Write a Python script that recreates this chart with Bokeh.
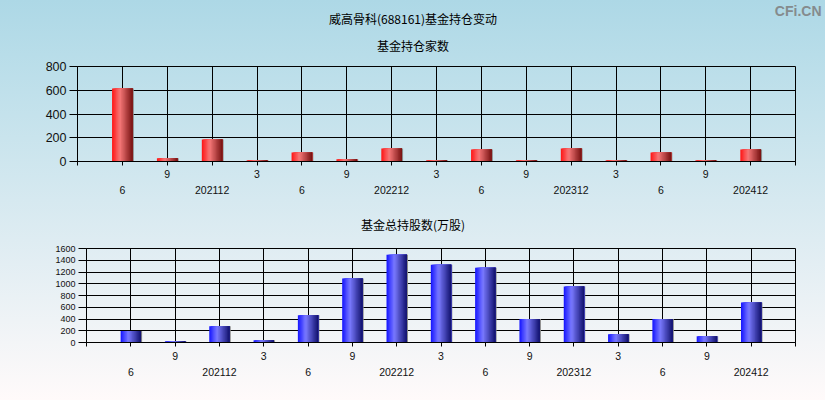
import numpy as np
from bokeh.plotting import figure
from bokeh.models import FixedTicker, Range1d
from bokeh.core.properties import value
from bokeh.embed import file_html
from bokeh.resources import INLINE

# ---- data ----
quarters = ["2021-06", "2021-09", "2021-12", "2022-03", "2022-06", "2022-09", "2022-12",
            "2023-03", "2023-06", "2023-09", "2023-12", "2024-03", "2024-06", "2024-09", "2024-12"]
tick_labels = ["6", "9", "202112", "3", "6", "9", "202212", "3", "6", "9", "202312",
               "3", "6", "9", "202412"]
fund_counts = [615, 28, 185, 11, 76, 19, 110, 10, 101, 10, 110, 10, 76, 10, 101]
fund_shares = [196, 22, 276, 39, 462, 1088, 1494, 1324, 1274, 399, 952, 140, 399, 107, 682]
main_title = "威高骨科(688161)基金持仓变动"
title_counts = "基金持仓家数"
title_shares = "基金总持股数(万股)"
watermark = "CFi.CN"

CJK = "Noto Sans CJK SC"
LAT = "Liberation Sans"
W = 825
TOTAL_H = 400

red_stops = [(0.0, (255, 20, 20)), (0.38, (246, 120, 120)), (1.0, (118, 16, 16))]
blue_stops = [(0.0, (20, 20, 255)), (0.38, (122, 122, 255)), (1.0, (16, 16, 108))]
bg_top = (173, 216, 230)
bg_bot = (255, 250, 250)


def hexc(c):
    return "#%02x%02x%02x" % tuple(int(round(v)) for v in c)


def bg_at(y):
    t = y / TOTAL_H
    return hexc([a + (b - a) * t for a, b in zip(bg_top, bg_bot)])


def interp(stops, f):
    for (f0, c0), (f1, c1) in zip(stops[:-1], stops[1:]):
        if f0 <= f <= f1:
            t = (f - f0) / (f1 - f0)
            return hexc([a + (b - a) * t for a, b in zip(c0, c1)])
    return hexc(stops[-1][1])


def set_bg(p, y0, y1):
    p.background_fill_color = None
    p.border_fill_color = None
    p.styles = {"background": "linear-gradient(to bottom, %s, %s)" % (bg_at(y0), bg_at(y1))}


def canvas(height, y0):
    p = figure(width=W, height=height, output_backend="svg", toolbar_location=None,
               x_range=Range1d(0, W), y_range=Range1d(height, 0),
               x_axis_type=None, y_axis_type=None, min_border=0)
    p.outline_line_color = None
    p.grid.visible = False
    set_bg(p, y0, y0 + height)
    return p


def gradient_bars(p, xs, tops, stops, width=0.46, n=16):
    xs = np.asarray(xs, float)
    tops = np.asarray(tops, float)
    sw = width / n
    right = xs + width / 2
    # shadow strip on the right
    p.vbar(x=list(right + 0.012), top=list(tops), width=0.026, bottom=0,
           fill_color="#8a8a8a", line_color=None)
    for j in range(n):
        col = interp(stops, (j + 0.5) / n)
        left = xs - width / 2 + j * sw
        p.vbar(x=list((left + right) / 2), top=list(tops), width=list(right - left), bottom=0,
               fill_color=col, line_color=None)


def bar_fig(values, ymax, ystep, stops, height, y0, left, top, bottom, ylab_size, standoff):
    n = len(values)
    xs = list(range(1, n + 1))
    p = figure(width=W, height=height, output_backend="svg", toolbar_location=None,
               x_range=Range1d(0, n + 1), y_range=Range1d(0, ymax),
               min_border_left=left, min_border_right=30, min_border_top=top,
               min_border_bottom=bottom)
    set_bg(p, y0, y0 + height)
    p.outline_line_color = "black"
    p.outline_line_width = 1

    xt = FixedTicker(ticks=list(range(0, n + 2)))
    yt = FixedTicker(ticks=list(range(0, ymax + 1, ystep)))
    overrides = {0: "", n + 1: ""}
    for i, lab in enumerate(tick_labels):
        k = i + 1
        overrides[k] = lab if k % 2 == 0 else "\n" + lab
    p.xaxis.ticker = xt
    p.xaxis.major_label_overrides = overrides
    p.yaxis.ticker = yt
    p.xgrid.ticker = xt
    p.ygrid.ticker = yt
    for g in (p.xgrid, p.ygrid):
        g.grid_line_color = "black"
        g.grid_line_alpha = 1
        g.grid_line_width = 1

    for ax in (p.xaxis, p.yaxis):
        ax.axis_line_color = "black"
        ax.major_tick_line_color = "black"
        ax.minor_tick_line_color = None
        ax.major_tick_in = 0
        ax.major_label_text_color = "#111111"
        ax.major_label_text_font = LAT
    p.xaxis.major_tick_out = 4
    p.xaxis.major_label_text_font_size = "10.5px"
    p.xaxis.major_label_text_line_height = 1.4
    p.xaxis.major_label_standoff = standoff
    p.xaxis.major_label_orientation = "horizontal"
    p.yaxis.major_tick_out = 8
    p.yaxis.major_label_text_font_size = ylab_size
    p.yaxis.major_label_standoff = 3

    gradient_bars(p, xs, values, stops)
    return p


# header: main title + subtitle + watermark (rows 0..54)
c1 = canvas(54, 0)
c1.text(x=[W / 2], y=[18], text=[main_title], text_font=value(CJK), text_font_size="12px",
        text_align="center", text_baseline="middle", text_color="black")
c1.text(x=[W / 2], y=[45], text=[title_counts], text_font=value(CJK), text_font_size="12px",
        text_align="center", text_baseline="middle", text_color="black")
c1.text(x=[821], y=[10], text=[watermark], text_font=value(LAT), text_font_size="14px",
        text_font_style="bold", text_align="right", text_baseline="middle", text_color="#858b8d")

# top chart rows 54..200, frame 66..161
p1 = bar_fig(fund_counts, 800, 200, red_stops, 146, 54, 77, 12, 39, "12.5px", 2)

# second subtitle rows 200..240
c2 = canvas(40, 200)
c2.text(x=[W / 2], y=[24], text=[title_shares], text_font=value(CJK), text_font_size="12px",
        text_align="center", text_baseline="middle", text_color="black")

# bottom chart rows 240..400, frame 248..342
p2 = bar_fig(fund_shares, 1600, 200, blue_stops, 160, 240, 86, 8, 58, "9px", 3)

# separate roots so that the two chart frames are not forced into alignment
p = [c1, p1, c2, p2]
open("out.html", "w").write(file_html(p, INLINE))
